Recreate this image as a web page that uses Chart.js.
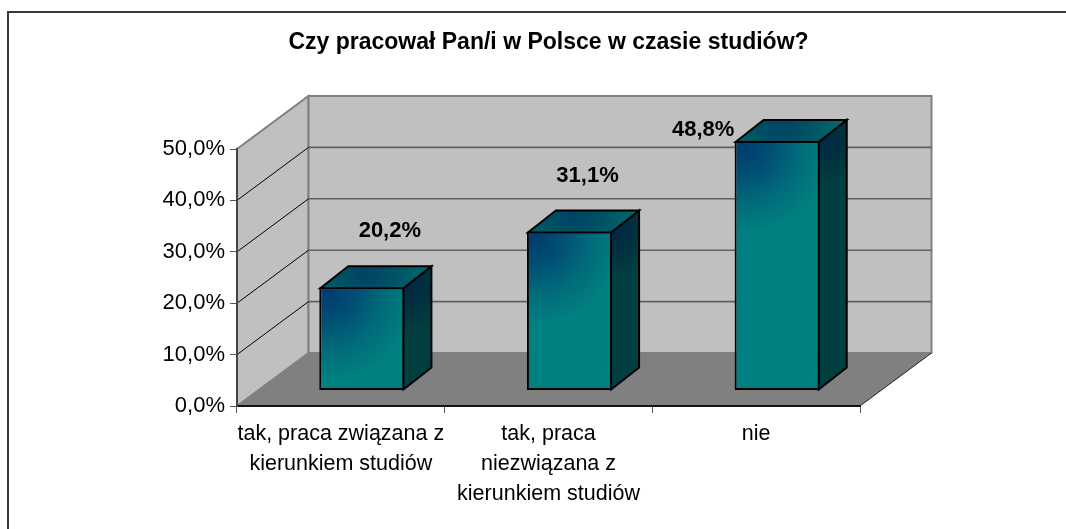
<!DOCTYPE html>
<html><head><meta charset="utf-8">
<style>html,body{margin:0;padding:0;background:#fff}canvas{display:block}</style>
<script src="https://cdn.jsdelivr.net/npm/chart.js@4"></script></head>
<body><canvas id="c" width="1066" height="529"></canvas>
<script>
const categories = [["tak, praca związana z","kierunkiem studiów"],["tak, praca","niezwiązana z","kierunkiem studiów"],["nie"]];
const values = [20.2, 31.1, 48.8];
const valueLabels = ["20,2%","31,1%","48,8%"];
const titleText = "Czy pracował Pan/i w Polsce w czasie studiów?";
const FONT = '"Liberation Sans", Arial, sans-serif';
const labelOffsets = [[49,-71],[39,-70],[-53,-25]];
const WALL = {dx:71.5, dy:-53};
const BAR = {sx:21, sy:-15.5, dx:28, dy:-22, k:0.995};

function poly(ctx, pts, fill, stroke, lw){
  ctx.beginPath(); pts.forEach((p,i)=> i?ctx.lineTo(p[0],p[1]):ctx.moveTo(p[0],p[1])); ctx.closePath();
  if(fill){ctx.fillStyle=fill;ctx.fill();}
  if(stroke){ctx.strokeStyle=stroke;ctx.lineWidth=lw;ctx.lineJoin='miter';ctx.stroke();}
}
const scene = {
  id:'scene',
  beforeDraw(chart){
    const {ctx,scales:{x,y}} = chart;
    const L=x.left,R=x.right,B=y.bottom,T=y.top,dx=WALL.dx,dy=WALL.dy;
    ctx.save();
    ctx.strokeStyle='#383838';ctx.lineWidth=2;
    ctx.beginPath();ctx.moveTo(8,chart.height);ctx.lineTo(8,12);ctx.lineTo(chart.width,12);ctx.stroke();
    poly(ctx,[[L,B],[L+dx,B+dy],[R+dx,B+dy],[R,B]],'#808080');
    poly(ctx,[[L,B],[L,T],[L+dx,T+dy],[L+dx,B+dy]],'#c0c0c0','#808080',2);
    poly(ctx,[[L+dx,T+dy],[R+dx,T+dy],[R+dx,B+dy],[L+dx,B+dy]],'#c0c0c0','#808080',2);
    y.ticks.forEach(t=>{
      if(t.value===0||t.value===50) return;
      const py=y.getPixelForValue(t.value);
      ctx.beginPath();ctx.moveTo(L+dx,py+dy);ctx.lineTo(R+dx,py+dy);ctx.strokeStyle='#606060';ctx.lineWidth=1.6;ctx.stroke();
      ctx.beginPath();ctx.moveTo(L,py);ctx.lineTo(L+dx,py+dy);ctx.strokeStyle='#000';ctx.lineWidth=1;ctx.stroke();
    });
    ctx.beginPath();ctx.moveTo(R,B);ctx.lineTo(R+dx,B+dy);ctx.strokeStyle='#222';ctx.lineWidth=1;ctx.stroke();
    ctx.restore();
  },
  beforeDatasetsDraw(chart){
    const {ctx,scales:{y}} = chart, y0=y.getPixelForValue(0);
    ctx.save();
    ctx.translate(BAR.sx,BAR.sy+y0); ctx.scale(1,BAR.k); ctx.translate(0,-y0);
  },
  afterDatasetsDraw(chart){
    const {ctx,scales:{x,y}} = chart, y0=y.getPixelForValue(0);
    ctx.restore();
    const meta=chart.getDatasetMeta(0);
    meta.data.forEach((b,i)=>{
      const half=b.width/2, xl=b.x-half+BAR.sx+1, xr=b.x+half+BAR.sx-1;
      const yb=y0+BAR.sy-1, yt=y0+BAR.sy-(y0-b.y)*BAR.k+1;
      const dx=BAR.dx,dy=BAR.dy;
      const sg=ctx.createRadialGradient(xr,yt+dy+18,0,xr,yt+dy+18,46);
      sg.addColorStop(0,'#002648');sg.addColorStop(.5,'#00303f');sg.addColorStop(1,'#003e40');
      ctx.save();
      poly(ctx,[[xr,yt],[xr+dx,yt+dy],[xr+dx,yb+dy],[xr,yb]],sg,'#000',2);
      const tg=ctx.createRadialGradient(xl+dx+18,yt+dy+3,0,xl+dx+18,yt+dy+3,62);
      tg.addColorStop(0,'#004266');tg.addColorStop(.5,'#005464');tg.addColorStop(1,'#006a6a');
      poly(ctx,[[xl,yt],[xl+dx,yt+dy],[xr+dx,yt+dy],[xr,yt]],tg,'#000',2);
      ctx.restore();
    });
    ctx.save();
    ctx.font='bold 22px '+FONT;ctx.fillStyle='#000';ctx.textAlign='center';ctx.textBaseline='middle';
    values.forEach((v,i)=>{
      ctx.fillText(valueLabels[i],x.getPixelForValue(i)+labelOffsets[i][0],y.getPixelForValue(v)+labelOffsets[i][1]);
    });
    ctx.restore();
  }
};
function frontFill(c){
  const chart=c.chart,sc=chart.scales;
  if(!sc.x||!sc.y||c.dataIndex===undefined) return '#008080';
  const cw=(sc.x.right-sc.x.left)/categories.length, w=cw*0.41;
  const xl=sc.x.getPixelForValue(c.dataIndex)-w/2, yt=sc.y.getPixelForValue(values[c.dataIndex]);
  if(!isFinite(xl)||!isFinite(yt)) return '#008080';
  const g=chart.ctx.createRadialGradient(xl+8,yt+6,0,xl+8,yt+6,88);
  g.addColorStop(0,'#003c70');g.addColorStop(.3,'#004e74');g.addColorStop(.65,'#006c7a');g.addColorStop(1,'#008080');
  return g;
}
new Chart(document.getElementById('c'),{
  type:'bar',
  data:{labels:categories,datasets:[{data:values,backgroundColor:frontFill,borderColor:'#000',borderWidth:2,borderSkipped:false,barPercentage:0.41,categoryPercentage:1}]},
  plugins:[scene],
  options:{
    responsive:false,animation:false,devicePixelRatio:1,
    layout:{padding:{left:0,right:206,top:0,bottom:0}},
    plugins:{legend:{display:false},tooltip:{enabled:false},
      title:{display:true,text:titleText,fullSize:false,color:'#000',font:{family:FONT,size:23,weight:'bold'},padding:{top:29,bottom:92.4}}},
    scales:{
      x:{afterFit(s){s.height=123;},
        grid:{drawOnChartArea:false,drawTicks:true,tickLength:7,color:'#555',offset:true},
        border:{color:'#111',width:2},
        ticks:{color:'#000',font:{family:FONT,size:21.5,lineHeight:1.395},padding:6,maxRotation:0,autoSkip:false}},
      y:{min:0,max:50,afterFit(s){s.width=237;},
        grid:{drawOnChartArea:false,drawTicks:true,tickLength:7,color:'#555'},
        border:{color:'#444',width:2},
        ticks:{stepSize:10,color:'#000',font:{family:FONT,size:22},padding:5,callback:v=>v.toFixed(1).replace('.',',')+'%'}}
    }
  }
});
</script></body></html>
